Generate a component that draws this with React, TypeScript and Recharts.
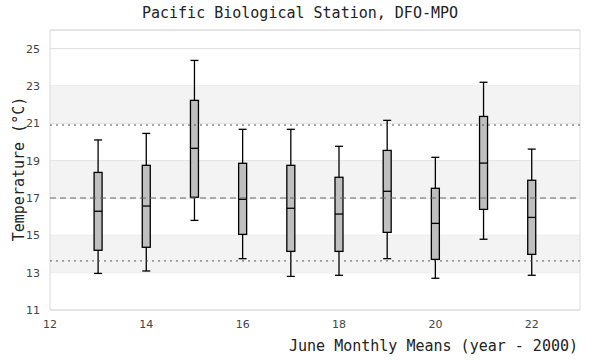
import React from 'react';
import {
  ComposedChart,
  Bar,
  XAxis,
  YAxis,
  CartesianGrid,
  ReferenceArea,
  ReferenceLine,
} from 'recharts';

const YEARS = [13, 14, 15, 16, 17, 18, 19, 20, 21, 22];
const WHISKER_LOW = [12.96, 13.09, 15.8, 13.75, 12.8, 12.86, 13.75, 12.7, 14.79, 12.86];
const Q1 = [14.2, 14.36, 17.04, 15.05, 14.14, 14.14, 15.16, 13.71, 16.39, 13.98];
const MEDIAN = [16.29, 16.57, 19.66, 16.93, 16.45, 16.14, 17.36, 15.64, 18.87, 15.96];
const Q3 = [18.37, 18.75, 22.23, 18.86, 18.75, 18.11, 19.55, 17.52, 21.37, 17.95];
const WHISKER_HIGH = [20.11, 20.46, 24.37, 20.68, 20.68, 19.77, 21.16, 19.18, 23.2, 19.62];

const X_TICKS = [12, 14, 16, 18, 20, 22];
const Y_TICKS = [11, 13, 15, 17, 19, 21, 23, 25];
const BANDS = [
  [13, 15],
  [17, 19],
  [21, 23],
];
const UPPER_REF = 20.91;
const MEAN_REF = 17.0;
const LOWER_REF = 13.63;

const data = YEARS.map((year, i) => ({
  year,
  lo: WHISKER_LOW[i],
  q1: Q1[i],
  med: MEDIAN[i],
  q3: Q3[i],
  hi: WHISKER_HIGH[i],
}));

const MONO = '"DejaVu Sans Mono", monospace';
const SANS = '"DejaVu Sans", sans-serif';

// draws whiskers + box from the floating [lo, hi] bar the library positions
function BoxShape(props: any) {
  const { x, y, width, height, payload } = props;
  if (!payload) return null;
  const top = Math.min(y, y + height);
  const bottom = Math.max(y, y + height);
  const span = payload.hi - payload.lo;
  const yOf = (v: number) => top + ((payload.hi - v) / span) * (bottom - top);
  const cx = x + width / 2;
  const half = width / 2;
  const yq3 = yOf(payload.q3);
  const yq1 = yOf(payload.q1);
  const ym = yOf(payload.med);
  return (
    <g stroke="#000" strokeWidth={1.3}>
      <line x1={cx} x2={cx} y1={top} y2={yq3} />
      <line x1={cx} x2={cx} y1={yq1} y2={bottom} />
      <line x1={cx - half} x2={cx + half} y1={top} y2={top} />
      <line x1={cx - half} x2={cx + half} y1={bottom} y2={bottom} />
      <rect x={cx - half} y={yq3} width={width} height={yq1 - yq3} fill="#bfbfbf" />
      <line x1={cx - half} x2={cx + half} y1={ym} y2={ym} />
    </g>
  );
}

export default function App() {
  return (
    <div style={{ position: 'absolute', left: 0, top: 0, width: 600, height: 360, background: '#fff' }}>
      <div
        style={{
          position: 'absolute',
          top: 4,
          left: 0,
          width: 600,
          textAlign: 'center',
          fontFamily: MONO,
          fontSize: 15,
          color: '#222',
        }}
      >
        Pacific Biological Station, DFO-MPO
      </div>
      <div
        style={{
          position: 'absolute',
          top: 337,
          right: 22,
          fontFamily: MONO,
          fontSize: 15,
          color: '#222',
          whiteSpace: 'nowrap',
        }}
      >
        June Monthly Means (year - 2000)
      </div>
      <div
        style={{
          position: 'absolute',
          left: 19,
          top: 169,
          transform: 'translate(-50%, -50%) rotate(-90deg)',
          fontFamily: MONO,
          fontSize: 15,
          color: '#222',
          whiteSpace: 'nowrap',
        }}
      >
        Temperature (°C)
      </div>
      <ComposedChart
        width={600}
        height={360}
        data={data}
        margin={{ top: 30, right: 20, bottom: 20, left: 0 }}
        style={{ position: 'absolute', left: 0, top: 0 }}
      >
        {BANDS.map(([a, b]) => (
          <ReferenceArea key={a} y1={a} y2={b} fill="#f3f3f3" fillOpacity={1} stroke="none" />
        ))}
        <CartesianGrid vertical={false} stroke="#dcdcdc" />
        <ReferenceArea x1={12} x2={23} y1={11} y2={26} fill="none" stroke="#dcdcdc" />
        <XAxis
          dataKey="year"
          type="number"
          domain={[12, 23]}
          ticks={X_TICKS}
          height={30}
          axisLine={false}
          tickLine={false}
          tickMargin={4}
          tick={{ fill: '#444', fontSize: 11, fontFamily: SANS }}
          allowDataOverflow
        />
        <YAxis
          type="number"
          domain={[11, 26]}
          ticks={Y_TICKS}
          width={50}
          axisLine={false}
          tickLine={false}
          tickMargin={4}
          tick={{ fill: '#444', fontSize: 11, fontFamily: SANS }}
          allowDataOverflow
        />
        <ReferenceLine y={UPPER_REF} stroke="#555" strokeDasharray="2 4" />
        <ReferenceLine y={MEAN_REF} stroke="#666" strokeDasharray="6 4" />
        <ReferenceLine y={LOWER_REF} stroke="#555" strokeDasharray="2 4" />
        <Bar
          dataKey={(d: any) => [d.lo, d.hi]}
          barSize={8}
          shape={<BoxShape />}
          isAnimationActive={false}
        />
      </ComposedChart>
    </div>
  );
}
